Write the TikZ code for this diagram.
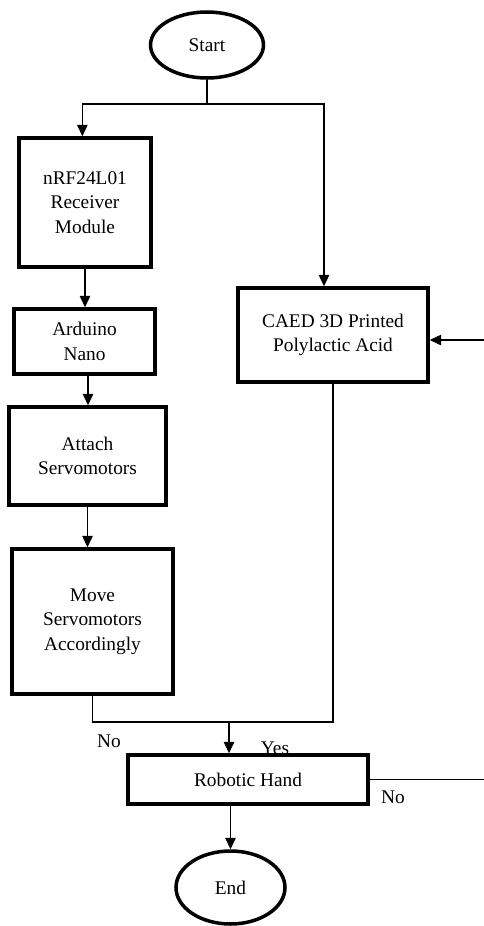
\documentclass[tikz,border=0pt]{standalone}
\usepackage{fontspec}
\setmainfont{Liberation Serif}
\usetikzlibrary{arrows.meta,shapes.geometric}
\begin{document}
\begin{tikzpicture}[font=\fontsize{11}{14}\selectfont,
  blk/.style={draw, line width=2pt, align=center, inner sep=2pt},
  term/.style={draw, ellipse, line width=2pt, inner sep=0pt},
  arr/.style={-{Triangle[length=6.5pt,width=6pt]}, line width=0.6pt},
  ln/.style={line width=0.6pt}]
\useasboundingbox (0,0) rectangle (9.68,-18.52);
\node(start) at (4.14,-0.90) [term, minimum width=2.26cm, minimum height=1.32cm]{Start};
\node(nrf) at (1.70,-4.05) [blk, minimum width=2.64cm, minimum height=2.58cm]{nRF24L01\\Receiver\\Module};
\node(ard) at (1.69,-6.83) [blk, minimum width=2.82cm, minimum height=1.30cm]{Arduino\\Nano};
\node(att) at (1.75,-9.12) [blk, minimum width=3.14cm, minimum height=1.96cm]{Attach\\Servomotors};
\node(move) at (1.85,-12.43) [blk, minimum width=3.22cm, minimum height=2.90cm]{Move\\Servomotors\\Accordingly};
\node(caed) at (6.66,-6.70) [blk, minimum width=3.80cm, minimum height=1.88cm]{CAED 3D Printed\\Polylactic Acid};
\node(robot) at (4.96,-15.59) [blk, minimum width=4.80cm, minimum height=0.98cm]{Robotic Hand};
\node(end) at (4.61,-17.75) [term, minimum width=2.18cm, minimum height=1.46cm]{End};
\node(no1) at (2.18,-14.82) {No};
\node(yes) at (5.50,-14.96) {Yes};
\node(no2) at (7.86,-15.94) {No};
\coordinate(split) at (4.14,-2.08);
\coordinate(join) at (4.58,-14.44);
\coordinate(inR) at (9.68,-6.80);
\coordinate(outR) at (9.68,-15.58);

\draw [ln] (start) -- (split);
\draw [arr] (split) -| ([xshift=-1.5pt]nrf.north);
\draw [arr] (split) -| ([xshift=-0.18cm]caed.north);
\draw [arr] (nrf.south) -- (nrf.south |- ard.north);
\draw [arr] ([xshift=2pt]ard.south) -- ([xshift=2pt]ard.south |- att.north);
\draw [arr] (att.south) -- (att.south |- move.north);

\draw [ln] (move.south) |- (join);
\draw [ln] (caed.south) |- (join);
\draw [arr] (join) -- (join |- robot.north);
\draw [arr] (inR) -- (inR -| caed.east);
\draw [ln] (robot.east) -- (robot.east -| outR);
\draw [arr] (robot.south -| end.north) -- (end.north);

\end{tikzpicture}
\end{document}
